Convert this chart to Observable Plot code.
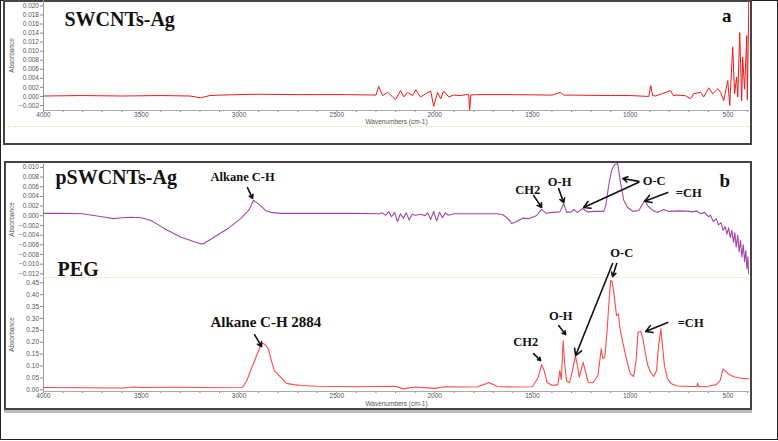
<!DOCTYPE html>
<html><head><meta charset="utf-8">
<script src="https://cdn.jsdelivr.net/npm/d3@7"></script>
<script src="https://cdn.jsdelivr.net/npm/@observablehq/plot@0.6"></script>
<style>
body{margin:0;background:#fff;}
#fig{position:relative;width:778px;height:441px;overflow:hidden;background:#fff;}
.abs{position:absolute;box-sizing:border-box;}
.abs svg{overflow:visible;}
</style></head><body><div id="fig"></div>
<script>
// ---------- data (wavenumber cm-1, absorbance) ----------
const swcntsAg = [[4000,0.0001],[3800,0.0002],[3600,0.0001],[3400,0.0002],[3250,0.0001],[3197,-0.0003],[3150,0.0002],[3100,0.0003],[2900,0.0005],[2700,0.0004],[2600,0.0004],[2450,0.0004],[2300,0.0003],[2286,0.0022],[2266,0.0002],[2240,0.0009],[2215,-0.0001],[2200,-0.0007],[2174,0.0013],[2158,-0.0001],[2138,0.0009],[2112,0.0002],[2097,0.0015],[2072,-0.0001],[2046,0.0006],[2020,0.0012],[2005,-0.0022],[1985,0.0009],[1969,-0.0005],[1954,0.0012],[1928,-0.0001],[1903,0.0003],[1867,0.0002],[1841,0.0004],[1826,0.0004],[1821,-0.0031],[1815,0.0003],[1790,0.0004],[1600,0.0004],[1400,0.0003],[1356,0.0009],[1340,0.0003],[1300,0.0003],[1100,0.0002],[1000,0.0002],[905,0.0000],[895,0.0024],[885,0.0002],[870,0.0001],[793,0.0013],[780,0.0002],[760,0.0003],[720,0.0002],[691,-0.0005],[675,0.0006],[640,0.0009],[624,-0.0001],[598,0.0019],[578,0.0006],[552,0.0017],[537,0.0009],[522,-0.0009],[501,0.0035],[491,-0.002],[476,0.0109],[466,0.0006],[456,0.0043],[450,-0.0001],[440,0.0141],[430,-0.0009],[425,0.0087],[415,0.0016],[404,0.0135],[401,-0.0007],[393,0.0215],[390,0.0153]];

const pswcntsAg = [[4000,0.0005],[3900,0.0005],[3800,0.0004],[3785,0.0003],[3700,-0.0002],[3642,-0.0006],[3600,-0.0004],[3555,-0.0003],[3500,-0.0004],[3450,-0.001],[3400,-0.0022],[3366,-0.003],[3299,-0.0044],[3240,-0.0052],[3197,-0.0058],[3182,-0.0058],[3130,-0.0045],[3059,-0.0027],[2992,-0.0006],[2951,0.0011],[2926,0.0032],[2890,0.0021],[2865,0.0011],[2839,0.0007],[2788,0.0005],[2600,0.0005],[2400,0.0005],[2280,0.0004],[2270,0.0006],[2250,0.0001],[2235,0.0008],[2220,-0.0002],[2205,0.0007],[2190,-0.0012],[2175,0.0004],[2160,-0.0005],[2145,0.0006],[2130,-0.0009],[2115,0.0003],[2100,0.0001],[2070,0.0003],[2050,0.0000],[2035,0.0006],[2020,-0.0008],[2005,0.0009],[1990,-0.0011],[1975,0.0007],[1960,-0.0004],[1945,0.0006],[1930,0.0001],[1900,0.0004],[1800,0.0004],[1680,0.0004],[1650,0.0002],[1620,-0.0008],[1606,-0.0016],[1580,-0.0012],[1550,-0.0005],[1520,-0.0006],[1480,0.0000],[1453,0.0013],[1430,0.0005],[1400,0.0007],[1360,0.0008],[1340,0.0025],[1325,0.0007],[1300,0.0008],[1289,0.0013],[1270,0.0007],[1243,0.0015],[1220,0.0008],[1180,0.0009],[1150,0.0009],[1136,0.0009],[1125,0.0021],[1110,0.0063],[1095,0.0094],[1079,0.0106],[1064,0.0108],[1049,0.0067],[1033,0.0032],[1013,0.0017],[987,0.0009],[956,0.0011],[941,0.0021],[926,0.0032],[911,0.0021],[885,0.0011],[860,0.0007],[829,0.0013],[803,0.0009],[750,0.001],[700,0.0009],[680,0.0008],[660,0.001],[640,0.0004],[620,0.0007],[600,-0.0002],[590,0.0001],[575,-0.0012],[560,-0.0006],[548,-0.0019],[535,-0.0014],[525,-0.003],[515,-0.0022],[505,-0.0038],[497,-0.0025],[488,-0.0045],[480,-0.003],[472,-0.0055],[465,-0.0035],[458,-0.0065],[450,-0.004],[443,-0.0075],[436,-0.005],[429,-0.0085],[422,-0.006],[415,-0.0095],[409,-0.0072],[403,-0.011],[398,-0.0085],[394,-0.012],[390,-0.0115]];

const peg = [[4000,0.010],[3800,0.009],[3600,0.008],[3540,0.012],[3500,0.010],[3300,0.011],[3100,0.009],[3000,0.010],[2982,0.011],[2960,0.039],[2941,0.081],[2920,0.123],[2900,0.165],[2884,0.197],[2870,0.192],[2850,0.173],[2835,0.123],[2820,0.081],[2800,0.064],[2780,0.047],[2760,0.028],[2720,0.022],[2680,0.018],[2600,0.015],[2400,0.013],[2200,0.015],[2160,0.004],[2100,0.012],[2000,0.006],[1950,0.013],[1850,0.012],[1780,0.013],[1740,0.025],[1724,0.031],[1700,0.022],[1680,0.014],[1600,0.012],[1500,0.013],[1470,0.053],[1453,0.106],[1440,0.081],[1425,0.032],[1400,0.018],[1370,0.022],[1360,0.081],[1352,0.043],[1343,0.207],[1335,0.109],[1325,0.036],[1310,0.03],[1295,0.081],[1280,0.144],[1270,0.102],[1260,0.053],[1241,0.116],[1230,0.081],[1215,0.032],[1190,0.03],[1165,0.06],[1148,0.172],[1140,0.132],[1130,0.137],[1118,0.25],[1108,0.375],[1100,0.459],[1092,0.455],[1082,0.396],[1070,0.312],[1060,0.319],[1053,0.263],[1040,0.207],[1020,0.132],[1000,0.067],[982,0.056],[970,0.123],[960,0.242],[947,0.246],[935,0.215],[925,0.165],[910,0.102],[895,0.073],[880,0.056],[865,0.081],[855,0.186],[843,0.256],[835,0.186],[825,0.102],[810,0.047],[790,0.026],[760,0.016],[700,0.014],[660,0.014],[655,0.028],[650,0.013],[600,0.015],[560,0.022],[540,0.04],[525,0.088],[515,0.081],[500,0.068],[470,0.055],[440,0.05],[410,0.047],[390,0.045]];

// ---------- ticks ----------
const xMajor = [4000,3500,3000,2500,2000,1500,1000,500];
const xMinor = [3900,3800,3700,3600,3400,3300,3200,3100,2900,2800,2700,2600,2400,2300,2200,2100,1900,1800,1700,1600,1400,1300,1200,1100,900,800,700,600,400];
const yTicksA = [-0.002,0,0.002,0.004,0.006,0.008,0.010,0.012,0.014,0.016,0.018,0.020];
const yTicksB = [-0.012,-0.010,-0.008,-0.006,-0.004,-0.002,0,0.002,0.004,0.006,0.008,0.010];
const yTicksPEG = [0,0.05,0.10,0.15,0.20,0.25,0.30,0.35,0.40,0.45];

// ---------- annotations ----------
const titlesA = [{t:"SWCNTs-Ag", w:3893, v:0.0170, a:"start", s:20},{t:"a", w:506, v:0.0179, a:"middle", s:19}];
const titlesB = [{t:"pSWCNTs-Ag", w:3939, v:0.0078, a:"start", s:20},{t:"b", w:517, v:0.0073, a:"middle", s:19}];
const labelsB = [{t:"Alkane C-H", w:3146, v:0.0081, a:"start", s:12.5},{t:"CH2", w:1524, v:0.0054, a:"middle", s:12.5},{t:"O-H", w:1361, v:0.0069, a:"middle", s:12.5},{t:"O-C", w:936, v:0.0071, a:"start", s:12.5},{t:"=CH", w:767, v:0.0046, a:"start", s:12.5}];
const arrowsB = [{w1:2957,v1:0.0058,w2:2931,v2:0.0036},{w1:1494,v1:0.0042,w2:1453,v2:0.0017},{w1:1366,v1:0.0056,w2:1340,v2:0.0027},{w1:956,v1:0.0071,w2:1038,v2:0.0077},{w1:956,v1:0.0069,w2:1238,v2:0.0017},{w1:808,v1:0.0048,w2:926,v2:0.0030}];
const titlesPEG = [{t:"PEG", w:3928, v:0.505, a:"start", s:20},{t:"Alkane C-H 2884", w:3146, v:0.283, a:"start", s:15}];
const labelsPEG = [{t:"CH2", w:1534, v:0.199, a:"middle", s:12.5},{t:"O-H", w:1355, v:0.312, a:"middle", s:12.5},{t:"O-C", w:1043, v:0.573, a:"middle", s:12.5},{t:"=CH", w:757, v:0.279, a:"start", s:12.5}];
const arrowsPEG = [{w1:2921,v1:0.232,w2:2885,v2:0.182},{w1:1494,v1:0.152,w2:1458,v2:0.123},{w1:1366,v1:0.27,w2:1330,v2:0.232},{w1:1069,v1:0.531,w2:1090,v2:0.476},{w1:1090,v1:0.531,w2:1279,v2:0.144},{w1:808,v1:0.283,w2:921,v2:0.245}];

// ---------- helpers ----------
const fig = document.getElementById("fig");
function box(l,t,w,h,css){const d=document.createElement("div");d.className="abs";Object.assign(d.style,{left:l+"px",top:t+"px",width:w+"px",height:h+"px"},css);fig.appendChild(d);return d;}
const serif = "Liberation Serif, Times New Roman, serif";
const sans = "Liberation Sans, Arial, sans-serif";
const tickFont = {fontSize: 6.5, fontFamily: sans, fill: "#555"};
const X_DOMAIN = [4000, 390];

function yAxis(ticks, fmt, off){
  return Plot.axisY({ticks, tickFormat: d3.format(fmt), tickSize: 3, tickPadding: 1.5, stroke: "#888", ...tickFont,
    label: "Absorbance", labelAnchor: "center", labelArrow: "none", labelOffset: off});
}
function xAxes(off){
  return [
    Plot.axisX({ticks: xMajor, tickFormat: d => String(d), tickSize: 0, tickPadding: 1.5, ...tickFont,
      label: "Wavenumbers (cm-1)", labelAnchor: "center", labelArrow: "none", labelOffset: off}),
    Plot.axisX({ticks: xMajor.concat(xMinor), tickFormat: () => "", tickSize: 2, stroke: "#888", label: null})
  ];
}
function textMarks(arr){
  return ["start","middle","end"].map(anchor =>
    Plot.text(arr.filter(d => d.a === anchor), {x:"w", y:"v", text:"t", textAnchor: anchor, fontFamily: serif, fontWeight: "bold",
      fontSize: d => d.s, fill: "#111"}));
}
function arrowMarks(arr){
  return Plot.arrow(arr, {x1:"w1", y1:"v1", x2:"w2", y2:"v2", stroke:"#111", strokeWidth: 1.6, headLength: 7, bend: 0});
}
const base = {width: 752, marginLeft: 43, marginRight: 3,
  style: {background: "transparent", overflow: "visible", fontFamily: sans}};

// ---------- frames ----------
box(0,0,778,440,{border:"1.5px solid #222"});
box(3,0,749,145,{border:"2px solid #444"});
box(4,161,748,249,{border:"2px solid #444", boxShadow:"0 3px 0 #bbb"});
box(8,126,742,1,{borderTop:"1px dotted #e8e0a0"});
box(43,277,706,1,{borderTop:"1px dotted #e8e0a0"});

// ---------- panel a ----------
const pa = Plot.plot({...base, height: 146, marginTop: 0, marginBottom: 36,
  x: {domain: X_DOMAIN},
  y: {domain: [-0.0031, 0.0212]},
  marks: [
    yAxis(yTicksA, ".3f", 34),
    ...xAxes(13),
    Plot.ruleX([4000], {stroke: "#999"}),
    Plot.ruleY([-0.0031], {stroke: "#aaa"}),
    Plot.line(swcntsAg, {x: d => d[0], y: d => d[1], stroke: "#f01818", strokeWidth: 1, clip: true}),
    ...textMarks(titlesA)
  ]});
const da = box(0,0,752,146,{}); da.appendChild(pa);

// ---------- panel b: pSWCNTs-Ag ----------
const pb = Plot.plot({...base, height: 116, marginTop: 1, marginBottom: 1,
  x: {domain: X_DOMAIN, axis: null},
  y: {domain: [-0.01255, 0.0110]},
  marks: [
    yAxis(yTicksB, ".3f", 34),
    Plot.ruleX([4000], {stroke: "#999"}),
    Plot.line(pswcntsAg, {x: d => d[0], y: d => d[1], stroke: "#a444a8", strokeWidth: 1.1, clip: true}),
    ...textMarks(titlesB),
    ...textMarks(labelsB),
    arrowMarks(arrowsB)
  ]});
const db = box(0,161,752,116,{}); db.appendChild(pb);

// ---------- panel b: PEG ----------
const pc = Plot.plot({...base, height: 180, marginTop: 37, marginBottom: 29,
  x: {domain: X_DOMAIN},
  y: {domain: [-0.007, 0.472]},
  marks: [
    yAxis(yTicksPEG, ".2f", 34),
    ...xAxes(14),
    Plot.ruleX([4000], {stroke: "#999"}),
    Plot.ruleY([-0.007], {stroke: "#aaa"}),
    Plot.line(peg, {x: d => d[0], y: d => d[1], stroke: "#ff4a4a", strokeWidth: 1.1, clip: true}),
    ...textMarks(titlesPEG),
    ...textMarks(labelsPEG),
    arrowMarks(arrowsPEG)
  ]});
const dc = box(0,240,752,180,{}); dc.appendChild(pc);
</script></body></html>
